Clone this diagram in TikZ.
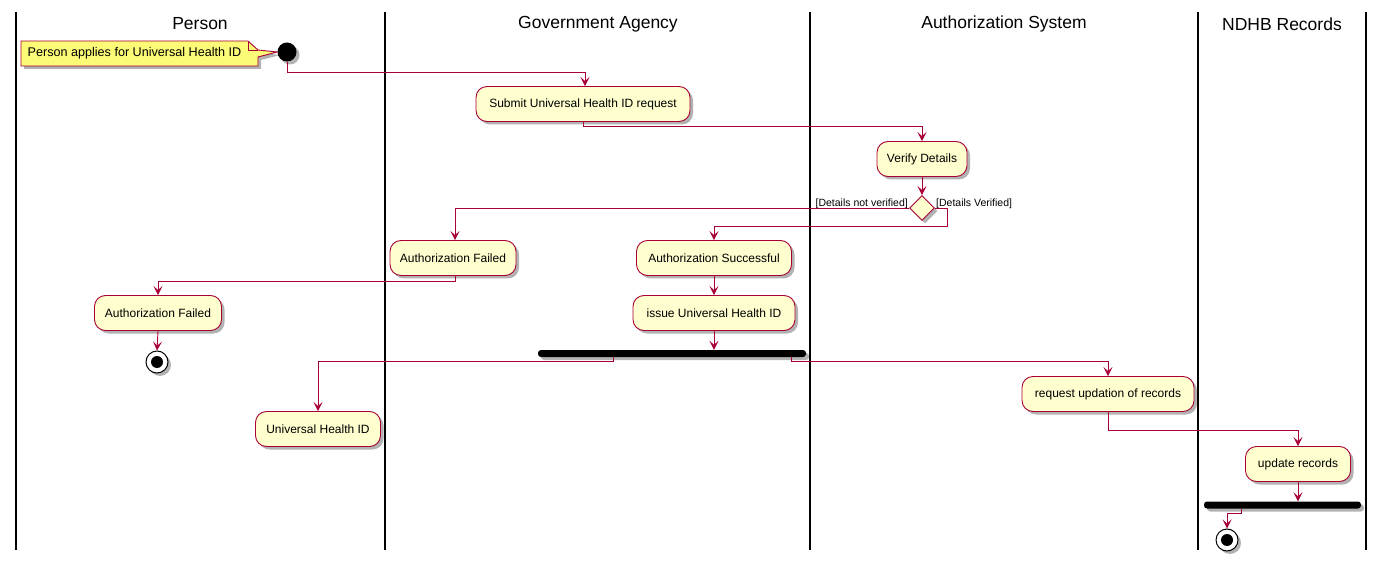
\documentclass[tikz,border=0pt]{standalone}
\usepackage{fontspec}
\setmainfont{Liberation Sans}
\usetikzlibrary{arrows.meta,shapes.geometric,shadows,backgrounds}
\definecolor{umlred}{HTML}{A80036}
\definecolor{umlfill}{HTML}{FEFECE}
\definecolor{umlnote}{HTML}{FBFB77}
\tikzset{
  shad/.style={drop shadow={shadow xshift=3pt,shadow yshift=-3pt,opacity=0.3,fill=black}},
  act/.style={rectangle,rounded corners=11pt,draw=umlred,fill=umlfill,line width=0.9pt,
     minimum height=35pt,inner sep=0pt,font=\fontsize{12}{14}\selectfont,shad},
  lane/.style={line width=1.6pt,black},
  title/.style={font=\fontsize{17.5}{20}\selectfont,inner sep=0pt},
  flow/.style={draw=umlred,line width=0.9pt,-{Stealth[length=9pt,width=9pt,inset=4pt]}},
  guard/.style={font=\fontsize{10.5}{12}\selectfont,inner sep=1pt},
  bar/.style={rectangle,rounded corners=3pt,fill=black,minimum height=7pt,inner sep=0pt,shad},
  startnode/.style={circle,fill=black,minimum size=19pt,inner sep=0pt,shad},
  endnode/.style={circle,draw=black,line width=1pt,fill=white,minimum size=22pt,inner sep=0pt,shad},
  dec/.style={diamond,draw=umlred,fill=umlfill,line width=0.9pt,minimum width=25pt,minimum height=25pt,inner sep=0pt,shad},
  notebox/.style={draw=umlred,fill=umlnote,line width=0.9pt,shad},
}
\begin{document}
\begin{tikzpicture}[x=1pt,y=-1pt]
\useasboundingbox (0,0) rectangle (1384,561);
% lanes
\foreach \lx in {16,385,810,1198,1366} \draw[lane] (\lx,12) -- (\lx,550);
\node[title] (t1) at (200,24) {Person};
\node[title] (t2) at (598,24) {Government Agency};
\node[title] (t3) at (1004,24) {Authorization System};
\node[title] (t4) at (1282,24) {NDHB Records};

% start + note
\node[startnode] (start) at (287,52) {};
\node[inner sep=0pt,font=\fontsize{12.6}{14}\selectfont] (note) at (134.5,53.5) {Person applies for Universal Health ID};
\begin{scope}[on background layer]
\draw[notebox]
  (21,41) -- (248,41) -- (258,50) -- (start.west) -- (258,57) -- (258,66) -- (21,66) -- cycle;
\draw[draw=umlred,line width=0.9pt] (248,41) |- (258,50);
\end{scope}

% activities
\node[act,minimum width=214pt] (submit) at (583,104) {Submit Universal Health ID request};
\node[act,minimum width=90pt] (verify) at (922,159) {Verify Details};
\node[dec] (dia) at (922,208) {};
\node[act,minimum width=126pt] (afg) at (453,258) {Authorization Failed};
\node[act,minimum width=155pt] (asucc) at (714,258) {Authorization Successful};
\node[act,minimum width=127pt] (afp) at (158,313) {Authorization Failed};
\node[endnode] (endp) at (157,362) {};
\fill (endp.center) circle (6pt);
\node[act,minimum width=162pt] (issue) at (714,313) {issue Universal Health ID};
\node[bar,minimum width=268pt] (fork) at (672,353.5) {};
\node[act,minimum width=125pt] (uhid) at (318,429) {Universal Health ID};
\node[act,minimum width=172pt] (req) at (1108,394) {request updation of records};
\node[act,minimum width=105pt] (upd) at (1298,464) {update records};
\node[bar,minimum width=157pt] (join) at (1282.5,505) {};
\node[endnode] (endn) at (1227,540) {};
\fill (endn.center) circle (6pt);

% connectors
\draw[flow] (start.south) -- ++(0,11) -| ([xshift=2pt]submit.north);
\draw[flow] (submit.south) -- ++(0,5) -| (verify.north);
\draw[flow] (verify.south) -- (dia.north);
\draw[flow] (dia.west) -| ([xshift=2pt]afg.north);
\node[guard,anchor=south east] (g1) at ([yshift=-2pt]dia.west) {[Details not verified]};
\draw[flow] (dia.east) -- ++(12,0) -- ++(0,18) -| (asucc.north);
\node[guard,anchor=south west] (g2) at ([yshift=-2pt]dia.east) {[Details Verified]};
\draw[flow] ([xshift=2pt]afg.south) -- ++(0,6) -| (afp.north);
\draw[flow] (afp.south) -- (endp.north);
\draw[flow] (asucc.south) -- (issue.north);
\draw[flow] (issue.south) -- (issue.south |- fork.north);
\draw[flow] ([xshift=76pt]fork.south west) -- ++(0,4) -| (uhid.north);
\draw[flow] ([xshift=-15pt]fork.south east) -- ++(0,4) -| (req.north);
\draw[flow] (req.south) -- ++(0,18) -| (upd.north);
\draw[flow] (upd.south) -- (upd.south |- join.north);
\draw[flow] ([xshift=38pt]join.south west) -- ++(0,5) -| (endn.north);
\end{tikzpicture}
\end{document}
